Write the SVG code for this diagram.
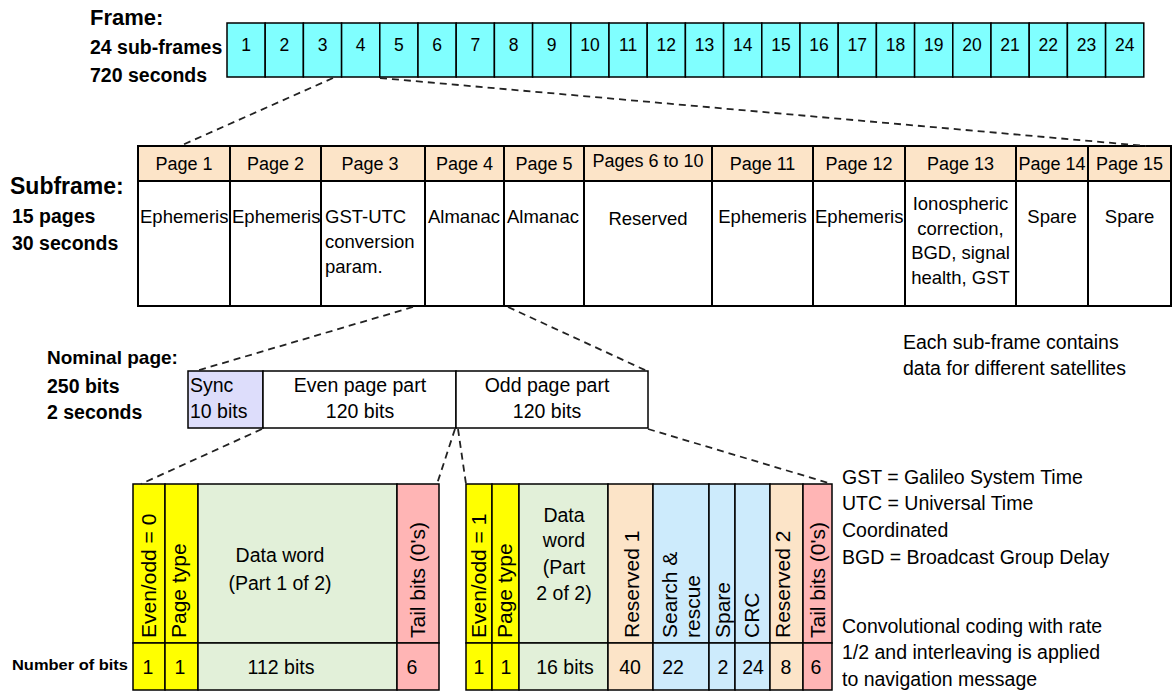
<svg xmlns="http://www.w3.org/2000/svg" width="1173" height="692" viewBox="0 0 1173 692">
<style>
text{font-family:"Liberation Sans",Arial,Helvetica,sans-serif;fill:#000}
.b{font-weight:bold}
.c{text-anchor:middle}
.n{font-size:17.5px}
.h{font-size:18px}
.s{font-size:18.5px}
.m{font-size:19.5px}
.v{font-size:21px}
.cell{stroke:#000;stroke-width:1.5}
.thick{stroke:#000;stroke-width:2}
.cy{fill:#80FFFF}
.pe{fill:#FCE4C8}
.wh{fill:#FFFFFF}
.la{fill:#DDDDFB}
.ye{fill:#FFFF00}
.gr{fill:#E2F0D9}
.pk{fill:#FFB5B5}
.bl{fill:#CDEBFC}
.dash{fill:none;stroke:#222;stroke-width:1.8;stroke-dasharray:7 5}
</style>

<g id="labels">
<text class="b" x="90" y="25" style="font-size:22px">Frame:</text>
<text class="b m" x="90" y="54">24 sub-frames</text>
<text class="b m" x="90" y="82">720 seconds</text>
<text class="b" x="10" y="194" style="font-size:23px">Subframe:</text>
<text class="b m" x="12" y="223">15 pages</text>
<text class="b m" x="12" y="250">30 seconds</text>
<text class="b" x="47" y="364" style="font-size:19px">Nominal page:</text>
<text class="b m" x="47" y="393">250 bits</text>
<text class="b m" x="47" y="419">2 seconds</text>
<text class="b" x="12" y="670" style="font-size:15.5px" textLength="116" lengthAdjust="spacingAndGlyphs">Number of bits</text>
</g>

<g id="frame">
<rect class="cell cy" x="227" y="23" width="38.2" height="54"/>
<rect class="cell cy" x="265.2" y="23" width="38.2" height="54"/>
<rect class="cell cy" x="303.4" y="23" width="38.2" height="54"/>
<rect class="cell cy" x="341.6" y="23" width="38.2" height="54"/>
<rect class="cell cy" x="379.8" y="23" width="38.2" height="54"/>
<rect class="cell cy" x="418" y="23" width="38.2" height="54"/>
<rect class="cell cy" x="456.2" y="23" width="38.2" height="54"/>
<rect class="cell cy" x="494.4" y="23" width="38.2" height="54"/>
<rect class="cell cy" x="532.6" y="23" width="38.2" height="54"/>
<rect class="cell cy" x="570.8" y="23" width="38.2" height="54"/>
<rect class="cell cy" x="609" y="23" width="38.2" height="54"/>
<rect class="cell cy" x="647.2" y="23" width="38.2" height="54"/>
<rect class="cell cy" x="685.4" y="23" width="38.2" height="54"/>
<rect class="cell cy" x="723.6" y="23" width="38.2" height="54"/>
<rect class="cell cy" x="761.8" y="23" width="38.2" height="54"/>
<rect class="cell cy" x="800" y="23" width="38.2" height="54"/>
<rect class="cell cy" x="838.2" y="23" width="38.2" height="54"/>
<rect class="cell cy" x="876.4" y="23" width="38.2" height="54"/>
<rect class="cell cy" x="914.6" y="23" width="38.2" height="54"/>
<rect class="cell cy" x="952.8" y="23" width="38.2" height="54"/>
<rect class="cell cy" x="991" y="23" width="38.2" height="54"/>
<rect class="cell cy" x="1029.2" y="23" width="38.2" height="54"/>
<rect class="cell cy" x="1067.4" y="23" width="38.2" height="54"/>
<rect class="cell cy" x="1105.6" y="23" width="38.2" height="54"/>
<text class="n c" x="246.1" y="51">1</text>
<text class="n c" x="284.3" y="51">2</text>
<text class="n c" x="322.5" y="51">3</text>
<text class="n c" x="360.7" y="51">4</text>
<text class="n c" x="398.9" y="51">5</text>
<text class="n c" x="437.1" y="51">6</text>
<text class="n c" x="475.3" y="51">7</text>
<text class="n c" x="513.5" y="51">8</text>
<text class="n c" x="551.7" y="51">9</text>
<text class="n c" x="589.9" y="51">10</text>
<text class="n c" x="628.1" y="51">11</text>
<text class="n c" x="666.3" y="51">12</text>
<text class="n c" x="704.5" y="51">13</text>
<text class="n c" x="742.7" y="51">14</text>
<text class="n c" x="780.9" y="51">15</text>
<text class="n c" x="819.1" y="51">16</text>
<text class="n c" x="857.3" y="51">17</text>
<text class="n c" x="895.5" y="51">18</text>
<text class="n c" x="933.7" y="51">19</text>
<text class="n c" x="971.9" y="51">20</text>
<text class="n c" x="1010.1" y="51">21</text>
<text class="n c" x="1048.3" y="51">22</text>
<text class="n c" x="1086.5" y="51">23</text>
<text class="n c" x="1124.7" y="51">24</text>
</g>

<g id="subframe">
<rect class="thick pe" x="138" y="146" width="92" height="35"/>
<rect class="thick pe" x="230" y="146" width="91" height="35"/>
<rect class="thick pe" x="321" y="146" width="104" height="35"/>
<rect class="thick pe" x="425" y="146" width="79" height="35"/>
<rect class="thick pe" x="504" y="146" width="80" height="35"/>
<rect class="thick pe" x="584" y="146" width="128" height="35"/>
<rect class="thick pe" x="712" y="146" width="101" height="35"/>
<rect class="thick pe" x="813" y="146" width="92" height="35"/>
<rect class="thick pe" x="905" y="146" width="111" height="35"/>
<rect class="thick pe" x="1016" y="146" width="72" height="35"/>
<rect class="thick pe" x="1088" y="146" width="83" height="35"/>
<rect class="thick wh" x="138" y="181" width="92" height="125"/>
<rect class="thick wh" x="230" y="181" width="91" height="125"/>
<rect class="thick wh" x="321" y="181" width="104" height="125"/>
<rect class="thick wh" x="425" y="181" width="79" height="125"/>
<rect class="thick wh" x="504" y="181" width="80" height="125"/>
<rect class="thick wh" x="584" y="181" width="128" height="125"/>
<rect class="thick wh" x="712" y="181" width="101" height="125"/>
<rect class="thick wh" x="813" y="181" width="92" height="125"/>
<rect class="thick wh" x="905" y="181" width="111" height="125"/>
<rect class="thick wh" x="1016" y="181" width="72" height="125"/>
<rect class="thick wh" x="1088" y="181" width="83" height="125"/>
<text class="h c" x="184" y="170">Page 1</text>
<text class="h c" x="275.5" y="170">Page 2</text>
<text class="h c" x="370" y="170">Page 3</text>
<text class="h c" x="464.5" y="170">Page 4</text>
<text class="h c" x="544" y="170">Page 5</text>
<text class="h c" x="648" y="167">Pages 6 to 10</text>
<text class="h c" x="762.5" y="170">Page 11</text>
<text class="h c" x="859" y="170">Page 12</text>
<text class="h c" x="960.5" y="170">Page 13</text>
<text class="h c" x="1052" y="170">Page 14</text>
<text class="h c" x="1129.5" y="170">Page 15</text>
<text class="s" x="140" y="223">Ephemeris</text>
<text class="s" x="232" y="223">Ephemeris</text>
<text class="s" x="325" y="223">GST-UTC</text>
<text class="s" x="325" y="248">conversion</text>
<text class="s" x="325" y="273">param.</text>
<text class="s" x="428" y="223">Almanac</text>
<text class="s" x="507" y="223">Almanac</text>
<text class="s c" x="648" y="225">Reserved</text>
<text class="s c" x="762.5" y="223">Ephemeris</text>
<text class="s" x="815" y="223">Ephemeris</text>
<text class="s c" x="960.5" y="210">Ionospheric</text>
<text class="s c" x="960.5" y="235">correction,</text>
<text class="s c" x="960.5" y="259">BGD, signal</text>
<text class="s c" x="960.5" y="284">health, GST</text>
<text class="s c" x="1052" y="223">Spare</text>
<text class="s c" x="1129.5" y="223">Spare</text>
</g>

<g id="nominal-page">
<rect class="cell la" x="188" y="371" width="75" height="57"/>
<rect class="cell wh" x="263" y="371" width="193" height="57"/>
<rect class="cell wh" x="456" y="371" width="192" height="57"/>
<text class="m" x="190" y="392">Sync</text>
<text class="m" x="190" y="418">10 bits</text>
<text class="m c" x="360" y="392">Even page part</text>
<text class="m c" x="360" y="418">120 bits</text>
<text class="m c" x="547" y="392">Odd page part</text>
<text class="m c" x="547" y="418">120 bits</text>
</g>

<g id="even-part">
<rect class="cell ye" x="133" y="484" width="32" height="159"/>
<rect class="cell ye" x="165" y="484" width="33" height="159"/>
<rect class="cell gr" x="198" y="484" width="199" height="159"/>
<rect class="cell pk" x="397" y="484" width="42" height="159"/>
<rect class="cell ye" x="133" y="643" width="32" height="47"/>
<rect class="cell ye" x="165" y="643" width="33" height="47"/>
<rect class="cell gr" x="198" y="643" width="199" height="47"/>
<rect class="cell pk" x="397" y="643" width="42" height="47"/>
<text class="v" transform="translate(156,638) rotate(-90)">Even/odd = 0</text>
<text class="v" transform="translate(186,638) rotate(-90)">Page type</text>
<text class="m c" x="280" y="562">Data word</text>
<text class="m c" x="280" y="590">(Part 1 of 2)</text>
<text class="v" transform="translate(425,638) rotate(-90)">Tail bits (0's)</text>
<text class="m c" x="148" y="674">1</text>
<text class="m c" x="180" y="674">1</text>
<text class="m c" x="281" y="674">112 bits</text>
<text class="m c" x="412" y="674">6</text>
</g>

<g id="odd-part">
<rect class="cell ye" x="466" y="484" width="26" height="159"/>
<rect class="cell ye" x="492" y="484" width="27" height="159"/>
<rect class="cell gr" x="519" y="484" width="89" height="159"/>
<rect class="cell pe" x="608" y="484" width="45" height="159"/>
<rect class="cell bl" x="653" y="484" width="56" height="159"/>
<rect class="cell bl" x="709" y="484" width="26" height="159"/>
<rect class="cell bl" x="735" y="484" width="35" height="159"/>
<rect class="cell pe" x="770" y="484" width="33" height="159"/>
<rect class="cell pk" x="803" y="484" width="29" height="159"/>
<rect class="cell ye" x="466" y="643" width="26" height="47"/>
<rect class="cell ye" x="492" y="643" width="27" height="47"/>
<rect class="cell gr" x="519" y="643" width="89" height="47"/>
<rect class="cell pe" x="608" y="643" width="45" height="47"/>
<rect class="cell bl" x="653" y="643" width="56" height="47"/>
<rect class="cell bl" x="709" y="643" width="26" height="47"/>
<rect class="cell bl" x="735" y="643" width="35" height="47"/>
<rect class="cell pe" x="770" y="643" width="33" height="47"/>
<rect class="cell pk" x="803" y="643" width="29" height="47"/>
<text class="v" transform="translate(486,638) rotate(-90)">Even/odd = 1</text>
<text class="v" transform="translate(512,638) rotate(-90)">Page type</text>
<text class="m c" x="564" y="522">Data</text>
<text class="m c" x="564" y="547">word</text>
<text class="m c" x="564" y="574">(Part</text>
<text class="m c" x="564" y="600">2 of 2)</text>
<text class="v" transform="translate(639,638) rotate(-90)">Reserved 1</text>
<text class="v" transform="translate(677,638) rotate(-90)">Search &amp;</text>
<text class="v" transform="translate(700,638) rotate(-90)">rescue</text>
<text class="v" transform="translate(730,638) rotate(-90)">Spare</text>
<text class="v" transform="translate(759,638) rotate(-90)">CRC</text>
<text class="v" transform="translate(790,638) rotate(-90)">Reserved 2</text>
<text class="v" transform="translate(825,638) rotate(-90)">Tail bits (0's)</text>
<text class="m c" x="479" y="674">1</text>
<text class="m c" x="506" y="674">1</text>
<text class="m c" x="565" y="674">16 bits</text>
<text class="m c" x="630" y="674">40</text>
<text class="m c" x="673" y="674">22</text>
<text class="m c" x="723" y="674">2</text>
<text class="m c" x="753" y="674">24</text>
<text class="m c" x="786" y="674">8</text>
<text class="m c" x="816" y="674">6</text>
</g>

<g id="notes">
<text class="m" x="903" y="349">Each sub-frame contains</text>
<text class="m" x="903" y="375">data for different satellites</text>
<text class="m" x="842" y="484">GST = Galileo System Time</text>
<text class="m" x="842" y="510">UTC = Universal Time</text>
<text class="m" x="842" y="537">Coordinated</text>
<text class="m" x="842" y="564">BGD = Broadcast Group Delay</text>
<text class="m" x="842" y="633">Convolutional coding with rate</text>
<text class="m" x="842" y="659">1/2 and interleaving is applied</text>
<text class="m" x="842" y="686">to navigation message</text>
</g>

<g id="connectors">
<line class="dash" x1="333" y1="78" x2="180" y2="146"/>
<line class="dash" x1="380" y1="78" x2="1146" y2="146"/>
<line class="dash" x1="413" y1="307" x2="196" y2="371"/>
<line class="dash" x1="508" y1="307" x2="647" y2="371"/>
<line class="dash" x1="262" y1="429" x2="141" y2="484"/>
<line class="dash" x1="455" y1="429" x2="437" y2="484"/>
<line class="dash" x1="458" y1="429" x2="466" y2="484"/>
<line class="dash" x1="648" y1="429" x2="832" y2="484"/>
</g>
</svg>
